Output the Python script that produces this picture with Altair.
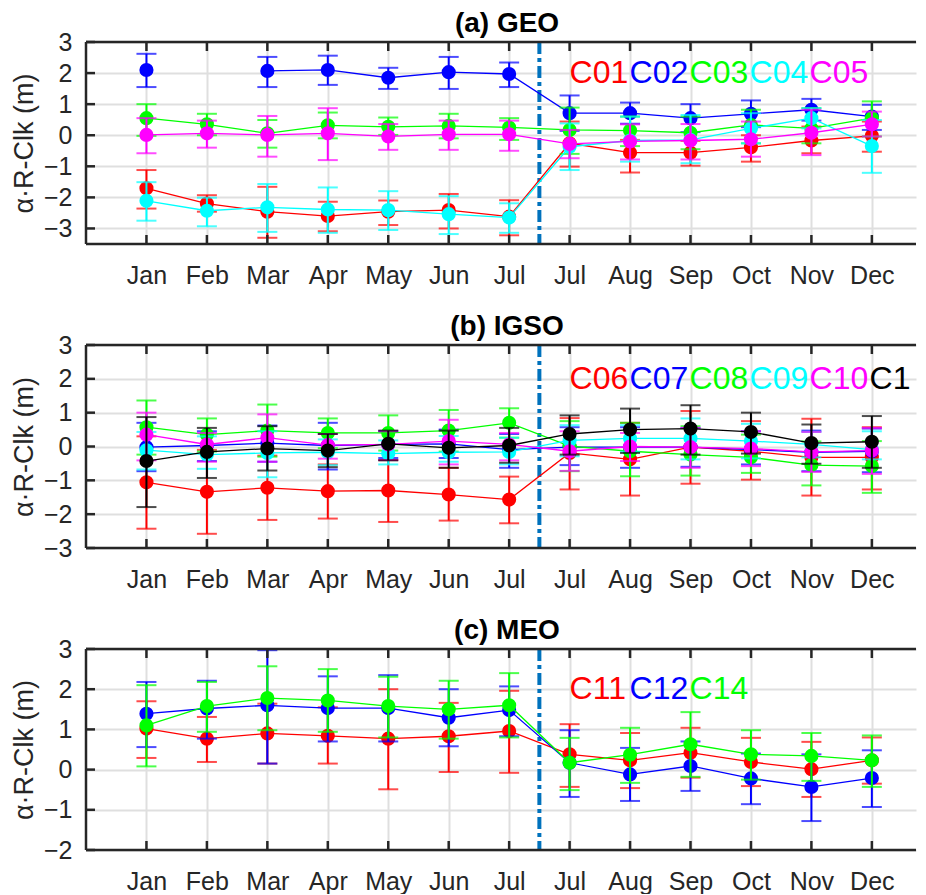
import altair as alt
import pandas as pd

nan = float("nan")

months = ["Jan", "Feb", "Mar", "Apr", "May", "Jun", "Jul", "Jul", "Aug", "Sep", "Oct", "Nov", "Dec"]
x_idx = list(range(1, 14))
split_x = [7.5]

# ---------------- (a) GEO ----------------
geo_names = ["C01", "C02", "C03", "C04", "C05"]
geo_colors = ["#FF0000", "#0000FF", "#00FF00", "#00FFFF", "#FF00FF"]
c01_mean = [-1.71, -2.20, -2.46, -2.60, -2.46, -2.41, -2.62, -0.26, -0.56, -0.56, -0.39, -0.17, -0.02]
c01_hi = [-1.12, -1.93, -1.66, -2.14, -2.10, -1.89, -2.09, 0.44, -0.15, -0.18, 0.00, 0.28, 0.44]
c01_lo = [-2.36, -2.46, -3.30, -3.09, -2.89, -3.00, -3.22, -1.01, -1.20, -0.98, -0.85, -0.58, -0.53]
c02_mean = [2.10, nan, 2.07, 2.10, 1.85, 2.03, 1.97, 0.71, 0.71, 0.55, 0.69, 0.82, 0.60]
c02_hi = [2.62, nan, 2.52, 2.56, 2.17, 2.52, 2.34, 1.28, 1.05, 1.00, 1.12, 1.17, 0.98]
c02_lo = [1.55, nan, 1.55, 1.62, 1.49, 1.49, 1.55, 0.14, 0.37, 0.10, 0.26, 0.47, 0.17]
c03_mean = [0.55, 0.35, 0.06, 0.32, 0.27, 0.30, 0.25, 0.17, 0.15, 0.08, 0.33, 0.22, 0.55]
c03_hi = [1.00, 0.69, 0.49, 0.73, 0.57, 0.69, 0.55, 0.89, 0.60, 0.60, 0.82, 0.87, 1.09]
c03_lo = [-0.02, 0.00, -0.40, -0.10, 0.01, -0.10, -0.15, -0.60, -0.35, -0.45, -0.26, -0.26, -0.04]
c04_mean = [-2.11, -2.43, -2.32, -2.39, -2.41, -2.54, -2.65, -0.37, -0.17, -0.15, 0.22, 0.55, -0.35]
c04_hi = [-1.51, -2.01, -1.57, -1.68, -1.80, -1.96, -2.19, 0.38, 0.60, 0.65, 0.71, 0.87, 0.49]
c04_lo = [-2.75, -2.93, -3.11, -3.14, -3.05, -3.18, -3.14, -1.12, -0.85, -0.90, -0.26, 0.22, -1.21]
c05_mean = [0.01, 0.06, 0.01, 0.06, -0.04, 0.03, 0.03, -0.28, -0.20, -0.17, -0.13, 0.08, 0.35]
c05_hi = [0.55, 0.47, 0.62, 0.87, 0.36, 0.47, 0.47, 0.17, 0.35, 0.36, 0.44, 0.82, 0.76]
c05_lo = [-0.58, -0.40, -0.69, -0.80, -0.47, -0.47, -0.50, -0.74, -0.78, -0.78, -0.69, -0.64, -0.04]

# ---------------- (b) IGSO ----------------
igso_names = ["C06", "C07", "C08", "C09", "C10", "C13"]
igso_colors = ["#FF0000", "#0000FF", "#00FF00", "#00FFFF", "#FF00FF", "#000000"]
c06_mean = [-1.06, -1.34, -1.22, -1.32, -1.30, -1.42, -1.57, -0.19, -0.38, -0.02, -0.14, -0.32, -0.32]
c06_hi = [0.30, -0.10, -0.27, -0.53, -0.40, -0.63, -0.89, 0.84, 0.70, 1.05, 0.75, 0.82, 0.57]
c06_lo = [-2.43, -2.58, -2.17, -2.13, -2.23, -2.19, -2.27, -1.27, -1.45, -1.10, -0.98, -1.45, -1.27]
c07_mean = [-0.02, 0.03, 0.10, 0.03, 0.06, 0.08, -0.09, -0.02, -0.02, -0.02, -0.09, -0.17, -0.14]
c07_hi = [0.70, 0.45, 0.62, 0.70, 0.45, 0.50, 0.37, 0.57, 0.57, 0.55, 0.45, 0.47, 0.53]
c07_lo = [-0.73, -0.43, -0.45, -0.68, -0.34, -0.34, -0.63, -0.55, -0.63, -0.60, -0.53, -0.73, -0.76]
c08_mean = [0.57, 0.35, 0.47, 0.40, 0.40, 0.47, 0.70, 0.01, -0.14, -0.24, -0.32, -0.55, -0.58]
c08_hi = [1.36, 0.83, 1.24, 0.83, 0.92, 1.08, 1.13, 0.75, 0.70, 0.60, 0.35, 0.15, 0.16]
c08_lo = [-0.24, -0.15, -0.30, -0.05, -0.12, -0.15, 0.26, -0.73, -0.88, -0.86, -0.78, -1.15, -1.37]
c09_mean = [-0.11, -0.24, -0.19, -0.17, -0.21, -0.17, -0.16, 0.18, 0.24, 0.24, 0.16, 0.06, -0.09]
c09_hi = [0.43, 0.30, 0.45, 0.21, 0.18, 0.31, 0.26, 0.63, 0.63, 0.83, 0.67, 0.43, 0.45]
c09_lo = [-0.68, -0.66, -0.91, -0.55, -0.53, -0.45, -0.53, -0.29, -0.15, -0.38, -0.35, -0.32, -0.38]
c10_mean = [0.35, 0.06, 0.26, 0.04, 0.06, 0.16, 0.06, -0.14, 0.00, -0.02, -0.06, -0.16, -0.12]
c10_hi = [1.00, 0.40, 0.95, 0.37, 0.45, 0.79, 0.40, 0.45, 0.40, 0.55, 0.45, 0.43, 0.55]
c10_lo = [-0.41, -0.45, -0.45, -0.36, -0.40, -0.53, -0.41, -0.72, -0.43, -0.63, -0.58, -0.75, -0.81]
c13_mean = [-0.43, -0.16, -0.06, -0.12, 0.08, -0.04, 0.03, 0.37, 0.50, 0.53, 0.43, 0.10, 0.14]
c13_hi = [0.87, 0.55, 0.60, 0.37, 0.47, 0.47, 0.55, 0.92, 1.12, 1.22, 1.00, 0.65, 0.90]
c13_lo = [-1.79, -0.93, -0.71, -0.61, -0.41, -0.63, -0.48, -0.24, -0.19, -0.24, -0.21, -0.51, -0.63]

# ---------------- (c) MEO ----------------
meo_names = ["C11", "C12", "C14"]
meo_colors = ["#FF0000", "#0000FF", "#00FF00"]
c11_mean = [1.02, 0.77, 0.90, 0.84, 0.77, 0.83, 0.96, 0.38, 0.23, 0.42, 0.19, 0.01, 0.23]
c11_hi = [1.70, 1.31, 1.64, 1.55, 2.00, 1.66, 1.96, 1.13, 0.91, 1.04, 0.79, 0.69, 0.80]
c11_lo = [0.29, 0.19, 0.15, 0.15, -0.49, -0.06, -0.08, -0.43, -0.46, -0.20, -0.41, -0.68, -0.35]
c12_mean = [1.39, 1.52, 1.60, 1.53, 1.53, 1.29, 1.48, 0.17, -0.12, 0.09, -0.22, -0.43, -0.21]
c12_hi = [2.18, 2.21, 2.97, 2.32, 2.35, 2.00, 2.07, 0.98, 0.54, 0.70, 0.40, 0.38, 0.48]
c12_lo = [0.56, 0.77, 0.15, 0.70, 0.70, 0.58, 0.83, -0.68, -0.78, -0.53, -0.86, -1.28, -0.93]
c14_mean = [1.10, 1.58, 1.78, 1.72, 1.58, 1.50, 1.60, 0.17, 0.37, 0.63, 0.38, 0.34, 0.23]
c14_hi = [2.10, 2.18, 2.57, 2.50, 2.31, 2.21, 2.40, 0.79, 1.04, 1.43, 0.98, 0.91, 0.85]
c14_lo = [0.08, 0.94, 0.98, 0.94, 0.80, 0.77, 0.80, -0.51, -0.33, -0.18, -0.25, -0.28, -0.43]

geo_series = [(c01_mean, c01_hi, c01_lo), (c02_mean, c02_hi, c02_lo), (c03_mean, c03_hi, c03_lo),
              (c04_mean, c04_hi, c04_lo), (c05_mean, c05_hi, c05_lo)]
igso_series = [(c06_mean, c06_hi, c06_lo), (c07_mean, c07_hi, c07_lo), (c08_mean, c08_hi, c08_lo),
               (c09_mean, c09_hi, c09_lo), (c10_mean, c10_hi, c10_lo), (c13_mean, c13_hi, c13_lo)]
meo_series = [(c11_mean, c11_hi, c11_lo), (c12_mean, c12_hi, c12_lo), (c14_mean, c14_hi, c14_lo)]

geo_yticks = [-3, -2, -1, 0, 1, 2, 3]
igso_yticks = [-3, -2, -1, 0, 1, 2, 3]
meo_yticks = [-2, -1, 0, 1, 2, 3]
legend_y = [2.0]

# ---------------- styling / layout ----------------
FONT = "Liberation Sans"
AXIS_COLOR = "#262626"
GRID_COLOR = "#dfdfdf"
PX_PER_UNIT = 60.45
W = 830
X_MAX = W / PX_PER_UNIT
LEG_X0 = 8.0
LEG_STEP = 60.0 / PX_PER_UNIT

label_expr = "[" + ",".join("'%s'" % m for m in months) + "][datum.value - 1]"


def make_panel(title, names, colors, series, ydomain, yticks, height):
    xs = alt.Scale(domain=[0, X_MAX], nice=False, zero=False, padding=0)
    ys = alt.Scale(domain=ydomain, nice=False, zero=False, padding=0)
    x_axis = alt.Axis(values=x_idx, labelExpr=label_expr, title=None, ticks=False, domain=False,
                      grid=True, gridColor=GRID_COLOR, gridWidth=2, labelFontSize=25, labelFont=FONT,
                      labelColor=AXIS_COLOR, labelPadding=19, labelFlush=False, labelOverlap=False)
    y_axis = alt.Axis(values=yticks, title="α·R-Clk (m)", ticks=False, domain=False, grid=True,
                      gridColor=GRID_COLOR, gridWidth=2, labelFontSize=25, labelFont=FONT,
                      labelColor=AXIS_COLOR, labelPadding=14, labelFlush=False, labelOverlap=False,
                      titleFont=FONT, titleFontSize=27, titleFontWeight="normal",
                      titleColor=AXIS_COLOR, titlePadding=5)

    def X(field="idx"):
        return alt.X(field + ":Q", scale=xs, axis=x_axis)

    def Y(field):
        return alt.Y(field + ":Q", scale=ys, axis=y_axis)

    rows = []
    for name, (m, h, l) in zip(names, series):
        for i, xv in enumerate(x_idx):
            rows.append({"sat": name, "idx": xv, "mean": m[i], "hi": h[i], "lo": l[i]})
    df = pd.DataFrame(rows)

    layers = []
    # dashed separator
    layers.append(
        alt.Chart(pd.DataFrame({"idx": split_x})).mark_rule(
            color="#0072BD", strokeWidth=4, strokeDash=[12, 4, 4, 4]
        ).encode(x=X())
    )
    for name, col in zip(names, colors):
        base = alt.Chart(df).transform_filter(alt.datum.sat == name)
        valid = base.transform_filter("isValid(datum.mean) && isFinite(datum.mean)")
        layers.append(base.mark_line(color=col, strokeWidth=1.3,
                                     invalid="break-paths-show-domains").encode(x=X(), y=Y("mean")))
        layers.append(valid.mark_rule(color=col, strokeWidth=2).encode(x=X(), y=Y("lo"), y2="hi:Q"))
        layers.append(valid.mark_tick(color=col, orient="horizontal", size=20, thickness=2)
                      .encode(x=X(), y=Y("hi")))
        layers.append(valid.mark_tick(color=col, orient="horizontal", size=20, thickness=2)
                      .encode(x=X(), y=Y("lo")))
        layers.append(valid.mark_circle(color=col, size=200, opacity=1).encode(x=X(), y=Y("mean")))

    # frame (top, left, bottom)
    frame = alt.Chart(pd.DataFrame({"idx": [0]}))
    layers.append(frame.mark_rule(color=AXIS_COLOR, strokeWidth=2.5)
                  .encode(x=alt.value(0), x2=alt.value(W), y=alt.value(0)))
    layers.append(frame.mark_rule(color=AXIS_COLOR, strokeWidth=2.5)
                  .encode(x=alt.value(0), x2=alt.value(W), y=alt.value(height)))
    layers.append(frame.mark_rule(color=AXIS_COLOR, strokeWidth=2.5)
                  .encode(x=alt.value(0), y=alt.value(0), y2=alt.value(height)))
    # inward ticks
    xt = alt.Chart(pd.DataFrame({"idx": x_idx}))
    layers.append(xt.mark_rule(color=AXIS_COLOR, strokeWidth=2.5)
                  .encode(x=X(), y=alt.value(height), y2=alt.value(height - 9)))
    layers.append(xt.mark_rule(color=AXIS_COLOR, strokeWidth=2.5)
                  .encode(x=X(), y=alt.value(0), y2=alt.value(9)))
    yt = alt.Chart(pd.DataFrame({"v": yticks}))
    layers.append(yt.mark_rule(color=AXIS_COLOR, strokeWidth=2.5)
                  .encode(y=Y("v"), x=alt.value(0), x2=alt.value(9)))

    # colored satellite labels (the last one runs into the right edge, as in the original)
    for i, (name, col) in enumerate(zip(names, colors)):
        lx = LEG_X0 + i * LEG_STEP
        avail = int(W - lx * PX_PER_UNIT)
        leg = pd.DataFrame({"name": [name], "lx": [lx], "ly": legend_y})
        layers.append(
            alt.Chart(leg).mark_text(font=FONT, fontSize=32, align="left", baseline="middle",
                                     color=col, limit=avail, ellipsis="\u200a")
            .encode(x=X("lx"), y=Y("ly"), text="name:N")
        )

    return alt.layer(*layers).properties(
        width=W, height=height,
        title=alt.TitleParams(text=title, font=FONT, fontSize=28, fontWeight="bold", color="#000000",
                              anchor="middle", frame="group", offset=-8, dx=6),
    )


pa = make_panel("(a) GEO", geo_names, geo_colors, geo_series, [-3.5, 3], geo_yticks, 202)
pb = make_panel("(b) IGSO", igso_names, igso_colors, igso_series, [-3, 3], igso_yticks, 203)
pc = make_panel("(c) MEO", meo_names, meo_colors, meo_series, [-2, 3], meo_yticks, 201)

chart = alt.vconcat(pa, pb, pc, spacing=25).properties(
    padding={"left": 2, "top": 2, "right": 0, "bottom": 0}
).configure_view(stroke=None)

chart.save("out.html", embed_options={"renderer": "svg", "actions": False})
